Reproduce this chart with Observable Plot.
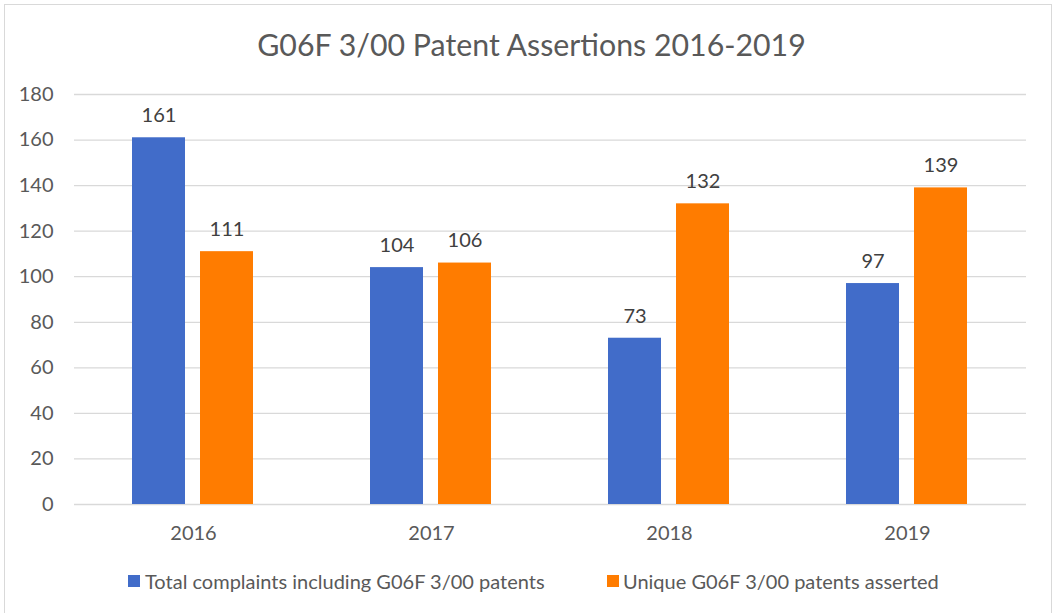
<!DOCTYPE html>
<html>
<head>
<meta charset="utf-8">
<script src="https://cdn.jsdelivr.net/npm/d3@7"></script>
<script src="https://cdn.jsdelivr.net/npm/@observablehq/plot@0.6"></script>
<style>
  html, body { margin: 0; padding: 0; background: #fff; }
  body { width: 1063px; height: 613px; position: relative; overflow: hidden; font-family: Lato, "Open Sans", sans-serif; }
  #frame { position: absolute; left: 4px; top: 4px; width: 1048px; height: 640px; border: 1.5px solid #d9d9d9; box-sizing: border-box; }
  #title { position: absolute; left: 0; width: 1063px; top: 22px; text-align: center; font-size: 30.3px; color: #595959; line-height: 44px; }
  #chart { position: absolute; left: 0; top: 70px; }
  .leg { position: absolute; top: 566px; font-size: 20px; color: #595959; line-height: 30px; white-space: nowrap; }
  .sw { position: absolute; top: 575px; width: 12px; height: 12px; }
</style>
</head>
<body>
<div id="frame"></div>
<div id="title">G06F 3/00 Patent Assertions 2016-2019</div>
<div id="chart"></div>
<div class="sw" style="left:128px;background:#416CC9"></div>
<div class="leg" style="left:145px">Total complaints including G06F 3/00 patents</div>
<div class="sw" style="left:607px;background:#FF7C00"></div>
<div class="leg" style="left:623px">Unique G06F 3/00 patents asserted</div>
<script>
const years = ["2016", "2017", "2018", "2019"];
const seriesNames = ["Total complaints including G06F 3/00 patents", "Unique G06F 3/00 patents asserted"];
const totalComplaints = [161, 104, 73, 97];
const uniquePatents = [111, 106, 132, 139];
const yTicks = [0, 20, 40, 60, 80, 100, 120, 140, 160, 180];
const seriesColors = ["#416CC9", "#FF7C00"];

const rows = [];
years.forEach((yr, i) => {
  rows.push({year: yr, series: seriesNames[0], value: totalComplaints[i]});
  rows.push({year: yr, series: seriesNames[1], value: uniquePatents[i]});
});

const chart = Plot.plot({
  width: 1063,
  height: 480,
  marginLeft: 73,
  marginRight: 36,
  marginTop: 24,
  marginBottom: 46,
  style: {fontFamily: "Lato, 'Open Sans', sans-serif", fontSize: "20px", color: "#595959", background: "transparent"},
  fx: {domain: years, padding: 0, paddingOuter: 0, label: null, tickSize: 0, tickPadding: 21, axis: "bottom"},
  x: {domain: seriesNames, paddingInner: 0.22, paddingOuter: 0.855, axis: null},
  y: {domain: [0, 180], ticks: yTicks, tickSize: 0, tickPadding: 21, label: null},
  color: {domain: seriesNames, range: seriesColors},
  facet: {data: rows, x: "year"},
  marks: [
    Plot.ruleY(yTicks, {stroke: "#d9d9d9", strokeWidth: 1.3}),
    Plot.barY(rows, {x: "series", y: "value", fill: "series"}),
    Plot.text(rows, {x: "series", y: "value", text: d => String(d.value), dy: -22, fontSize: 20, fill: "#404040"})
  ]
});
document.getElementById("chart").appendChild(chart);
</script>
</body>
</html>
